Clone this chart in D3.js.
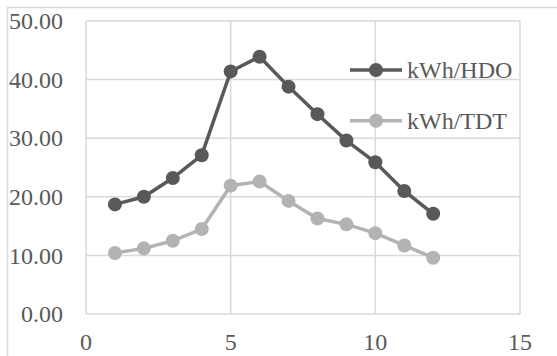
<!DOCTYPE html>
<html><head><meta charset="utf-8">
<script src="https://cdn.jsdelivr.net/npm/d3@7"></script>
<style>body{margin:0;background:#fff}svg{display:block}</style>
</head><body>
<script>
const xValues = [1,2,3,4,5,6,7,8,9,10,11,12];
const hdo = [18.7,20.0,23.2,27.1,41.4,43.9,38.8,34.1,29.6,25.9,21.0,17.1];
const tdt = [10.4,11.2,12.5,14.5,21.9,22.6,19.3,16.3,15.3,13.8,11.7,9.6];
const seriesNames = ["kWh/HDO","kWh/TDT"];
const yTicks = [0,10,20,30,40,50];
const xTicks = [0,5,10,15];

const W=557,H=356;
const svg=d3.select("body").append("svg").attr("width",W).attr("height",H);
svg.append("rect").attr("x",7.5).attr("y",7.5).attr("width",620).attr("height",420)
  .attr("fill","#fff").attr("stroke","#d9d9d9").attr("stroke-width",1.5);
const x=d3.scaleLinear().domain([0,15]).range([86,520]);
const y=d3.scaleLinear().domain([0,50]).range([314,21]);
const font="'Liberation Serif','Times New Roman',serif";
const fs=24;
const g=svg.append("g");
g.selectAll("line.h").data(yTicks).join("line").attr("x1",x(0)).attr("x2",x(15))
  .attr("y1",d=>y(d)).attr("y2",d=>y(d)).attr("stroke","#d9d9d9").attr("stroke-width",1.5);
g.selectAll("line.v").data(xTicks).join("line").attr("y1",y(0)).attr("y2",y(50))
  .attr("x1",d=>x(d)).attr("x2",d=>x(d)).attr("stroke","#d9d9d9").attr("stroke-width",1.5);
g.selectAll("text.y").data(yTicks).join("text").attr("x",63).attr("y",d=>y(d))
  .attr("dy","0.34em").attr("text-anchor","end").attr("font-family",font).attr("font-size",fs)
  .attr("fill","#595959").text(d=>d3.format(".2f")(d));
g.selectAll("text.x").data(xTicks).join("text").attr("x",d=>x(d)).attr("y",350)
  .attr("text-anchor","middle").attr("font-family",font).attr("font-size",fs)
  .attr("fill","#595959").text(d=>d);
const series=[{name:seriesNames[0],vals:hdo,color:"#595959"},{name:seriesNames[1],vals:tdt,color:"#b3b3b3"}];
const line=d3.line().x((d,i)=>x(xValues[i])).y(d=>y(d));
series.slice().reverse().forEach(s=>{
  g.append("path").attr("d",line(s.vals)).attr("fill","none").attr("stroke",s.color).attr("stroke-width",3.5);
  g.selectAll(null).data(s.vals).join("circle").attr("cx",(d,i)=>x(xValues[i])).attr("cy",d=>y(d))
    .attr("r",7).attr("fill",s.color);
});
series.forEach((s,i)=>{
  const ly=70+i*50.7;
  g.append("line").attr("x1",350).attr("x2",402).attr("y1",ly).attr("y2",ly).attr("stroke",s.color).attr("stroke-width",3.5);
  g.append("circle").attr("cx",376).attr("cy",ly).attr("r",7).attr("fill",s.color);
  g.append("text").attr("x",407).attr("y",ly).attr("dy","0.34em").attr("font-family",font)
    .attr("font-size",fs).attr("fill","#595959").text(s.name);
});
</script>
</body></html>
